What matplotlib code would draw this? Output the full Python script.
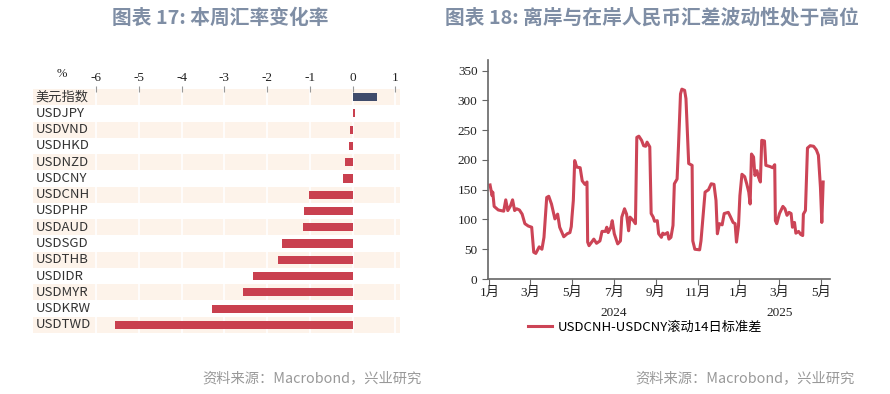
import pandas as pd
import matplotlib.pyplot as plt

plt.rcParams['font.family'] = ['Noto Sans CJK SC', 'DejaVu Sans']

# left panel: weekly change of exchange rates (%)
currencies = ["美元指数", "USDJPY", "USDVND", "USDHKD", "USDNZD", "USDCNY", "USDCNH",
              "USDPHP", "USDAUD", "USDSGD", "USDTHB", "USDIDR", "USDMYR", "USDKRW", "USDTWD"]
changes = [0.57, 0.05, -0.05, -0.08, -0.18, -0.22, -1.03,
           -1.13, -1.16, -1.66, -1.75, -2.33, -2.56, -3.29, -5.57]
x_ticks = [-6, -5, -4, -3, -2, -1, 0, 1]

# right panel: USDCNH-USDCNY rolling 14d std
dates = [
    "2024-01-02", "2024-01-05", "2024-01-06", "2024-01-08", "2024-01-14", "2024-01-22",
    "2024-01-25", "2024-01-28", "2024-02-01", "2024-02-04", "2024-02-07", "2024-02-10",
    "2024-02-14", "2024-02-18", "2024-02-22", "2024-02-27", "2024-03-03", "2024-03-06",
    "2024-03-09", "2024-03-14", "2024-03-18", "2024-03-21", "2024-03-25", "2024-03-28",
    "2024-04-01", "2024-04-06", "2024-04-10", "2024-04-13", "2024-04-19", "2024-04-24",
    "2024-04-28", "2024-04-30", "2024-05-01", "2024-05-03", "2024-05-05", "2024-05-08",
    "2024-05-13", "2024-05-16", "2024-05-20", "2024-05-23", "2024-05-24", "2024-05-26",
    "2024-06-02", "2024-06-06", "2024-06-11", "2024-06-14", "2024-06-19", "2024-06-21",
    "2024-06-23", "2024-06-27", "2024-06-29", "2024-07-02", "2024-07-07", "2024-07-11",
    "2024-07-13", "2024-07-17", "2024-07-20", "2024-07-23", "2024-07-25", "2024-07-30",
    "2024-08-02", "2024-08-04", "2024-08-07", "2024-08-11", "2024-08-14", "2024-08-17",
    "2024-08-19", "2024-08-23", "2024-08-25", "2024-08-28", "2024-08-30", "2024-09-03",
    "2024-09-05", "2024-09-09", "2024-09-11", "2024-09-14", "2024-09-18", "2024-09-20",
    "2024-09-23", "2024-09-26", "2024-09-28", "2024-10-02", "2024-10-04", "2024-10-07",
    "2024-10-09", "2024-10-13", "2024-10-15", "2024-10-19", "2024-10-24", "2024-10-25",
    "2024-10-28", "2024-11-04", "2024-11-06", "2024-11-10", "2024-11-12", "2024-11-17",
    "2024-11-21", "2024-11-25", "2024-11-28", "2024-11-30", "2024-12-03", "2024-12-07",
    "2024-12-10", "2024-12-16", "2024-12-19", "2024-12-23", "2024-12-26", "2024-12-28",
    "2024-12-31", "2025-01-02", "2025-01-05", "2025-01-09", "2025-01-12", "2025-01-15",
    "2025-01-17", "2025-01-19", "2025-01-22", "2025-01-24", "2025-01-27", "2025-01-29",
    "2025-02-01", "2025-02-03", "2025-02-07", "2025-02-09", "2025-02-15", "2025-02-19",
    "2025-02-22", "2025-02-23", "2025-02-25", "2025-03-01", "2025-03-06", "2025-03-09",
    "2025-03-12", "2025-03-15", "2025-03-18", "2025-03-20", "2025-03-23", "2025-03-25",
    "2025-03-29", "2025-04-01", "2025-04-04", "2025-04-05", "2025-04-08", "2025-04-11",
    "2025-04-15", "2025-04-20", "2025-04-24", "2025-04-27", "2025-04-30", "2025-05-02",
    "2025-05-04",
]
spread_std = [
    158, 140, 146, 122, 116, 114,
    133, 115, 123, 133, 115, 118,
    116, 109, 93, 89, 87, 45,
    43, 54, 50, 70, 137, 139,
    126, 101, 109, 87, 71, 76,
    78, 88, 104, 132, 199, 188,
    187, 165, 159, 163, 62, 56,
    67, 60, 64, 80, 80, 87,
    78, 87, 98, 76, 59, 64,
    104, 118, 109, 81, 104, 98,
    93, 238, 240, 233, 224, 223,
    230, 222, 110, 104, 97, 98,
    76, 70, 77, 75, 78, 67,
    70, 90, 160, 168, 222, 311,
    319, 317, 303, 194, 191, 64,
    50, 49, 64, 120, 146, 150,
    160, 159, 132, 76, 93, 91,
    110, 112, 105, 95, 93, 62,
    90, 140, 176, 172, 160, 146,
    126, 210, 205, 174, 182, 172,
    163, 233, 232, 191, 189, 187,
    192, 98, 93, 110, 122, 118,
    107, 112, 110, 87, 95, 77,
    80, 75, 73, 109, 115, 220,
    224, 223, 217, 208, 154, 95,
    163,
]
month_ticks = pd.date_range("2024-01-01", "2025-05-01", freq="2MS")

W, H = 890, 394
fig = plt.figure(figsize=(W / 100, H / 100), dpi=100)

title_color = "#7f8ea5"
red = "#c9404f"
serif = ["Liberation Serif", "Noto Sans CJK SC"]

# ---------------- left chart ----------------
ax1 = fig.add_axes([33 / W, 1 - 333 / H, 367 / W, 244 / H])
ax1.set_xlim(-7.48, 1.11)
ax1.set_ylim(len(currencies) - 0.5, -0.5)
for i in range(0, len(currencies), 2):
    ax1.axhspan(i - 0.5, i + 0.5, color="#fdf3ea", lw=0, zorder=0)
for t in x_ticks:
    ax1.axvline(t, color="white", lw=1.2, zorder=1)
bar_colors = ["#3f4b6b"] + [red] * (len(currencies) - 1)
ax1.barh(range(len(currencies)), changes, height=0.5, color=bar_colors, zorder=2)
for i, name in enumerate(currencies):
    ax1.text(-7.42, i, name, va="center", ha="left", fontsize=9.5, color="#333333")
ax1.xaxis.tick_top()
ax1.set_xticks(x_ticks)
ax1.set_xticklabels([str(t) for t in x_ticks], fontfamily=serif)
ax1.tick_params(axis="x", direction="inout", length=5, color="#999999",
                labelsize=9.5, pad=1, labelcolor="#222222")
ax1.set_yticks([])
for s in ax1.spines.values():
    s.set_visible(False)
ax1.text(-6.8, 1.06, "%", transform=ax1.get_xaxis_transform(), ha="center",
         va="center", fontsize=9, fontfamily=serif, color="#222222")

# ---------------- right chart ----------------
ax2 = fig.add_axes([488 / W, 1 - 279 / H, (830 - 488) / W, (279 - 60) / H])
ax2.plot(pd.to_datetime(dates), spread_std, color="#cc4456", lw=2.2,
         label="USDCNH-USDCNY滚动14日标准差")
ax2.set_ylim(0, 368)
ax2.set_xlim(pd.Timestamp("2023-12-30"), pd.Timestamp("2025-05-14"))
ax2.set_yticks(range(0, 351, 50))
ax2.set_yticklabels([str(v) for v in range(0, 351, 50)], fontfamily=serif)
ax2.set_xticks(month_ticks)
ax2.set_xticklabels([f"{d.month}月" for d in month_ticks], fontfamily=serif)
ax2.tick_params(labelsize=9.5, color="#666666", length=4, labelcolor="#222222")
ax2.tick_params(axis="x", pad=2)
ax2.spines["top"].set_visible(False)
ax2.spines["right"].set_visible(False)
ax2.spines["left"].set_color("#666666")
ax2.spines["bottom"].set_color("#666666")
ax2.spines["left"].set_linewidth(1.2)
ax2.spines["bottom"].set_linewidth(1.2)
for yr, mid in [("2024", "2024-07-01"), ("2025", "2025-03-01")]:
    ax2.text(pd.Timestamp(mid), -0.155, yr, transform=ax2.get_xaxis_transform(),
             ha="center", va="center", fontsize=9.5, fontfamily=serif, color="#222222")
fig.legend(loc="center", bbox_to_anchor=(645 / W, 1 - 327 / H), frameon=False,
           fontsize=9.5, handlelength=1.8, handletextpad=0.4)

# ---------------- titles / sources ----------------
fig.text(220 / W, 1 - 18 / H, "图表 17: 本周汇率变化率", ha="center", va="center",
         fontsize=14.2, fontweight="bold", color=title_color)
fig.text(652 / W, 1 - 18 / H, "图表 18: 离岸与在岸人民币汇差波动性处于高位", ha="center",
         va="center", fontsize=14.2, fontweight="bold", color=title_color)
fig.text(422 / W, 1 - 378 / H, "资料来源：Macrobond，兴业研究", ha="right", va="center",
         fontsize=10.3, color="#999999")
fig.text(855 / W, 1 - 378 / H, "资料来源：Macrobond，兴业研究", ha="right", va="center",
         fontsize=10.3, color="#999999")

fig.savefig("out.png", dpi=100)
